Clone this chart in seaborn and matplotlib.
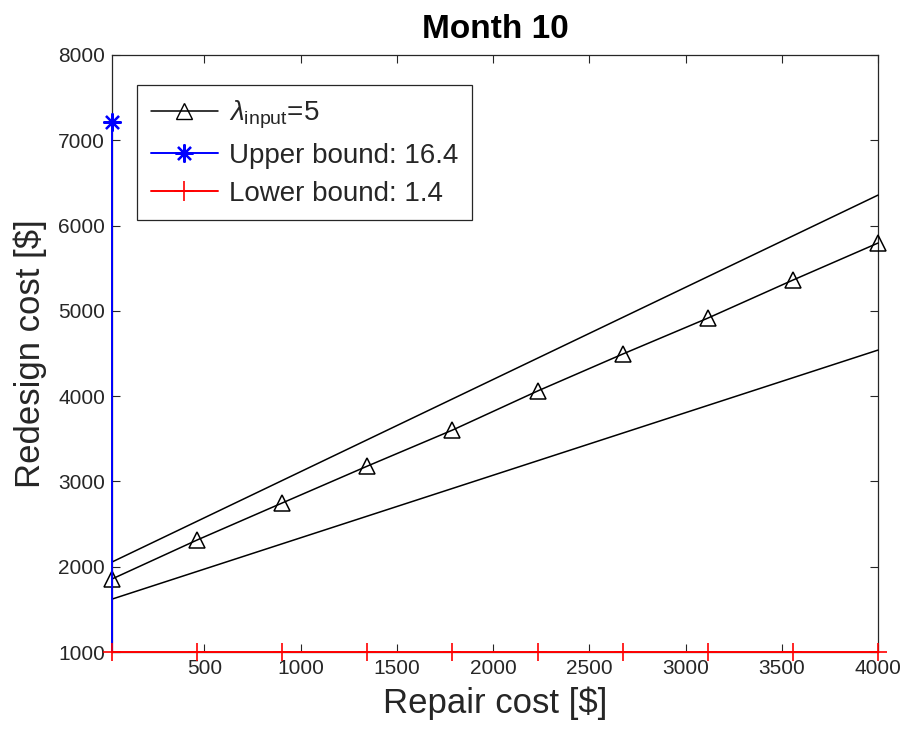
import matplotlib
matplotlib.use("Agg")
import matplotlib.pyplot as plt
import seaborn as sns
from matplotlib.lines import Line2D

# ---- data ----
repair_markers = [20, 462, 904, 1347, 1789, 2231, 2673, 3116, 3558, 4000]
lambda_input_cost = [1856, 2313, 2747, 3180, 3602, 4060, 4493, 4915, 5361, 5795]
upper_line_x = [20, 4000]
upper_line_y = [2055, 6357]
lower_line_x = [20, 4000]
lower_line_y = [1620, 4540]
blue_x = [20, 20]
blue_y = [1000, 7220]
red_y = [1000] * len(repair_markers)

title = "Month 10"
xlabel = "Repair cost [$]"
ylabel = "Redesign cost [$]"
legend_labels = [r"$\lambda_{\mathrm{input}}$=5", "Upper bound: 16.4", "Lower bound: 1.4"]
xticks = [500, 1000, 1500, 2000, 2500, 3000, 3500, 4000]
yticks = [1000, 2000, 3000, 4000, 5000, 6000, 7000, 8000]

sns.set_theme(style="white")
plt.rcParams["font.family"] = ["Liberation Sans", "DejaVu Sans"]
plt.rcParams["mathtext.fontset"] = "custom"
plt.rcParams["mathtext.rm"] = "Liberation Sans"
plt.rcParams["mathtext.it"] = "Liberation Sans:italic"

fig = plt.figure(figsize=(9.06, 7.38), dpi=100)
W, H = 906, 738
ax = fig.add_axes([112 / W, (H - 652) / H, 766 / W, 597 / H])

axis_col = "#262626"
ASTERISK = (8, 2, 0)

# upper / lower black reference lines
sns.lineplot(x=upper_line_x, y=upper_line_y, ax=ax, color="black", lw=1.1,
             estimator=None, sort=False, legend=False)
sns.lineplot(x=lower_line_x, y=lower_line_y, ax=ax, color="black", lw=1.1,
             estimator=None, sort=False, legend=False)

# lambda input line with triangles
sns.lineplot(x=repair_markers, y=lambda_input_cost, ax=ax, color="black", lw=1.1,
             marker="^", markersize=11, markerfacecolor="none",
             markeredgecolor="black", markeredgewidth=1.1,
             estimator=None, sort=False, legend=False)

# upper bound (blue)
sns.lineplot(x=blue_x, y=blue_y, ax=ax, color="blue", lw=1.4,
             estimator=None, sort=False, legend=False)
ax.plot([blue_x[-1]], [blue_y[-1]], marker=ASTERISK, color="blue", markersize=13,
        markeredgewidth=1.6, linestyle="none")

# lower bound (red)
sns.lineplot(x=repair_markers, y=red_y, ax=ax, color="red", lw=1.4,
             marker="+", markersize=13, markeredgewidth=1.2, markeredgecolor="red",
             estimator=None, sort=False, legend=False)
for l in ax.lines:
    l.set_clip_on(False)
    l.set_zorder(3)

ax.set_xlim(20, 4000)
ax.set_ylim(1000, 8000)
ax.set_xticks(xticks)
ax.set_yticks(yticks)
ax.tick_params(direction="in", length=6, width=0.8, top=True, right=True,
               bottom=True, left=True, labelsize=15, colors=axis_col, pad=5)
for s in ax.spines.values():
    s.set_color(axis_col)
    s.set_linewidth(0.9)

ax.set_title(title, fontsize=24, fontweight="bold", pad=12, color="black")
ax.set_xlabel(xlabel, fontsize=25, color=axis_col, labelpad=6)
ax.set_ylabel(ylabel, fontsize=25, color=axis_col, labelpad=8)

# legend
handles = [
    Line2D([], [], color="black", lw=1.1, marker="^", markersize=11,
           markerfacecolor="none", markeredgecolor="black"),
    Line2D([], [], color="blue", lw=1.4, marker=ASTERISK, markersize=13,
           markeredgewidth=1.6),
    Line2D([], [], color="red", lw=1.4, marker="+", markersize=15, markeredgewidth=1.2),
]
leg = ax.legend(handles, legend_labels, loc="upper left",
                bbox_to_anchor=(25 / 766, 1 - 30 / 597), borderaxespad=0,
                fontsize=20, handlelength=2.4, handletextpad=0.4,
                labelspacing=0.42, borderpad=0.5, fancybox=False,
                framealpha=1, edgecolor=axis_col)
leg.get_frame().set_linewidth(0.9)
leg.set_zorder(5)
for t in leg.get_texts():
    t.set_color(axis_col)

fig.savefig("out.png", dpi=100, facecolor="white")
